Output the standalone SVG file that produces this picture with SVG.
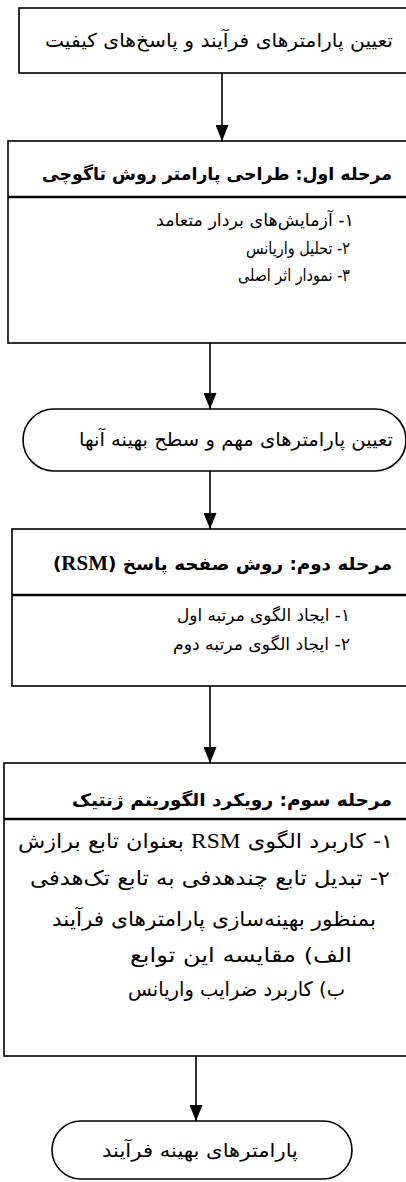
<svg xmlns="http://www.w3.org/2000/svg" width="406" height="1182" viewBox="0 0 406 1182">
<style>
.box{fill:#fff;stroke:#000;stroke-width:1.6}
.div{stroke:#000;stroke-width:2.6}
.t{font-family:"DejaVu Sans",sans-serif;font-size:17px;fill:#000;direction:rtl;text-anchor:start}
.big{font-size:19px}
.b4{font-size:20px}
.h{font-weight:bold;font-size:17.5px}
.c{text-anchor:middle}
.lat{font-family:"Liberation Serif",serif;font-size:21px}
.latb{font-family:"Liberation Serif",serif;font-size:20px;font-weight:bold}
.con{stroke:#000;stroke-width:1.6;fill:none;marker-end:url(#ah)}
</style>
<defs>
<marker id="ah" markerWidth="16" markerHeight="13" refX="16" refY="6.5" orient="auto" markerUnits="userSpaceOnUse" viewBox="0 0 16 13">
<path d="M0,0 L16,6.5 L0,13 Z" fill="#000"/>
</marker>
</defs>
<g id="connectors">
<line class="con" x1="222" y1="73" x2="222" y2="141"/>
<line class="con" x1="210" y1="343" x2="210" y2="409"/>
<line class="con" x1="210" y1="471" x2="210" y2="529"/>
<line class="con" x1="210" y1="686" x2="210" y2="763"/>
<line class="con" x1="196" y1="1056" x2="196" y2="1121"/>
</g>
<g id="n1">
<rect class="box" x="19" y="8" width="400" height="65"/>
<text class="t big" x="393" y="47" textLength="348" lengthAdjust="spacingAndGlyphs">تعیین پارامترهای فرآیند و پاسخ‌های کیفیت</text>
</g>
<g id="n2">
<rect class="box" x="8" y="141" width="410" height="202"/>
<line class="div" x1="8" y1="197" x2="418" y2="197"/>
<text class="t h" x="392" y="180" textLength="350" lengthAdjust="spacingAndGlyphs">مرحله اول: طراحی پارامتر روش تاگوچی</text>
<text class="t" x="354" y="226" textLength="198" lengthAdjust="spacingAndGlyphs">۱-  آزمایش‌های بردار متعامد</text>
<text class="t" x="350" y="254" textLength="104" lengthAdjust="spacingAndGlyphs">۲- تحلیل واریانس</text>
<text class="t" x="350" y="281" textLength="112" lengthAdjust="spacingAndGlyphs">۳- نمودار اثر اصلی</text>
</g>
<g id="n3">
<rect class="box" x="23" y="409" width="383" height="62" rx="31" ry="31"/>
<text class="t big" x="393" y="446" textLength="314" lengthAdjust="spacingAndGlyphs">تعیین پارامترهای مهم و سطح بهینه آنها</text>
</g>
<g id="n4">
<rect class="box" x="12" y="529" width="410" height="157"/>
<line class="div" x1="12" y1="595" x2="422" y2="595"/>
<text class="t h" x="392" y="570" textLength="339" lengthAdjust="spacingAndGlyphs">مرحله دوم: روش صفحه پاسخ (<tspan class="latb">RSM</tspan>)</text>
<text class="t" x="350" y="621" textLength="173" lengthAdjust="spacingAndGlyphs">۱-  ایجاد الگوی مرتبه اول</text>
<text class="t" x="350" y="650" textLength="177" lengthAdjust="spacingAndGlyphs">۲- ایجاد الگوی مرتبه دوم</text>
</g>
<g id="n5">
<rect class="box" x="4" y="763" width="410" height="293"/>
<line class="div" x1="4" y1="819" x2="414" y2="819"/>
<text class="t h" x="392" y="806" textLength="320" lengthAdjust="spacingAndGlyphs">مرحله سوم: رویکرد الگوریتم ژنتیک</text>
<text class="t b4" x="393" y="848" textLength="375" lengthAdjust="spacingAndGlyphs">۱-  کاربرد الگوی <tspan class="lat">RSM</tspan> بعنوان تابع برازش</text>
<text class="t b4" x="390" y="885" textLength="360" lengthAdjust="spacingAndGlyphs">۲- تبدیل تابع چندهدفی به تابع تک‌هدفی</text>
<text class="t b4" x="376" y="926" textLength="324" lengthAdjust="spacingAndGlyphs">بمنظور بهینه‌سازی پارامترهای فرآیند</text>
<text class="t b4" x="352" y="962" textLength="222" lengthAdjust="spacingAndGlyphs">الف) مقایسه این توابع</text>
<text class="t b4" x="345" y="996" textLength="217" lengthAdjust="spacingAndGlyphs">ب) کاربرد ضرایب واریانس</text>
</g>
<g id="n6">
<rect class="box" x="52" y="1121" width="300" height="58" rx="29" ry="29"/>
<text class="t big" x="298" y="1157" textLength="196" lengthAdjust="spacingAndGlyphs">پارامترهای بهینه فرآیند</text>
</g>
</svg>
